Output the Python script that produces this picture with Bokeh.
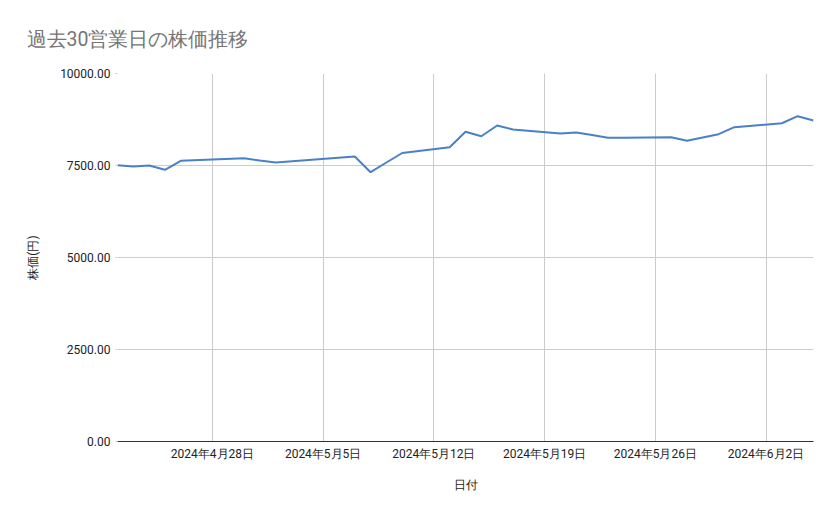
from datetime import datetime

from bokeh.embed import file_html
from bokeh.models import FixedTicker, PrintfTickFormatter
from bokeh.plotting import figure
from bokeh.resources import INLINE

# 過去30営業日の終値 (値はグラフから読み取り)
dates = [
    "2024-04-22", "2024-04-23", "2024-04-24", "2024-04-25", "2024-04-26",
    "2024-04-30", "2024-05-01", "2024-05-02", "2024-05-07", "2024-05-08",
    "2024-05-09", "2024-05-10", "2024-05-13", "2024-05-14", "2024-05-15",
    "2024-05-16", "2024-05-17", "2024-05-20", "2024-05-21", "2024-05-22",
    "2024-05-23", "2024-05-24", "2024-05-27", "2024-05-28", "2024-05-29",
    "2024-05-30", "2024-05-31", "2024-06-03", "2024-06-04", "2024-06-05",
]
prices = [
    7508, 7473, 7500, 7383, 7628,
    7698, 7636, 7582, 7745, 7318,
    7582, 7840, 7998, 8416, 8296,
    8587, 8478, 8370, 8397, 8329,
    8253, 8253, 8269, 8171, 8261,
    8351, 8541, 8649, 8840, 8723,
]

tick_dates = ["2024-04-28", "2024-05-05", "2024-05-12", "2024-05-19", "2024-05-26", "2024-06-02"]
tick_labels = ["2024年4月28日", "2024年5月5日", "2024年5月12日", "2024年5月19日", "2024年5月26日", "2024年6月2日"]
y_ticks = [0, 2500, 5000, 7500, 10000]


def ms(s):
    return datetime.strptime(s, "%Y-%m-%d").timestamp() * 1000


x = [datetime.strptime(d, "%Y-%m-%d") for d in dates]
tick_ms = [ms(d) for d in tick_dates]

p = figure(
    width=831, height=511,
    x_axis_type="datetime",
    x_range=(x[0], x[-1]), y_range=(0, 10000),
    output_backend="svg", toolbar_location=None,
    min_border_left=117, min_border_right=18,
    min_border_top=73, min_border_bottom=70,
)

p.title.text = "過去30営業日の株価推移"
p.title.align = "left"
p.title.vertical_align = "top"
p.title.offset = -91
p.title.standoff = 42
p.title.text_font = "Roboto"
p.title.text_font_size = "19.5px"
p.title.text_font_style = "normal"
p.title.text_color = "#757575"

p.line(x, prices, line_color="#4a80c8", line_width=2)

p.outline_line_color = None

# x軸
xa = p.xaxis[0]
xa.ticker = FixedTicker(ticks=tick_ms)
xa.major_label_overrides = dict(zip(tick_ms, tick_labels))
xa.major_tick_line_color = None
xa.major_tick_in = 0
xa.major_tick_out = 0
xa.minor_tick_line_color = None
xa.axis_line_color = "#333333"
xa.major_label_standoff = 5
xa.major_label_text_font = "Roboto"
xa.major_label_text_font_size = "12px"
xa.major_label_text_color = "#222222"
xa.axis_label = "日付"
xa.axis_label_standoff = 14
xa.axis_label_text_font = "Roboto"
xa.axis_label_text_font_size = "12px"
xa.axis_label_text_font_style = "normal"
xa.axis_label_text_color = "#222222"

# y軸
ya = p.yaxis[0]
ya.ticker = FixedTicker(ticks=y_ticks)
ya.formatter = PrintfTickFormatter(format="%.2f")
ya.axis_line_color = None
ya.major_tick_line_color = "#cccccc"
ya.major_tick_in = 0
ya.major_tick_out = 2
ya.minor_tick_line_color = None
ya.major_label_standoff = 5
ya.major_label_text_font = "Roboto"
ya.major_label_text_font_size = "12px"
ya.major_label_text_color = "#222222"
ya.axis_label = "株価(円)"
ya.axis_label_standoff = 17
ya.axis_label_text_font = "Roboto"
ya.axis_label_text_font_size = "12px"
ya.axis_label_text_font_style = "normal"
ya.axis_label_text_color = "#222222"

p.xgrid.ticker = FixedTicker(ticks=tick_ms)
p.xgrid.grid_line_color = "#cccccc"
p.ygrid.grid_line_color = "#cccccc"

open("out.html", "w").write(file_html(p, INLINE))
